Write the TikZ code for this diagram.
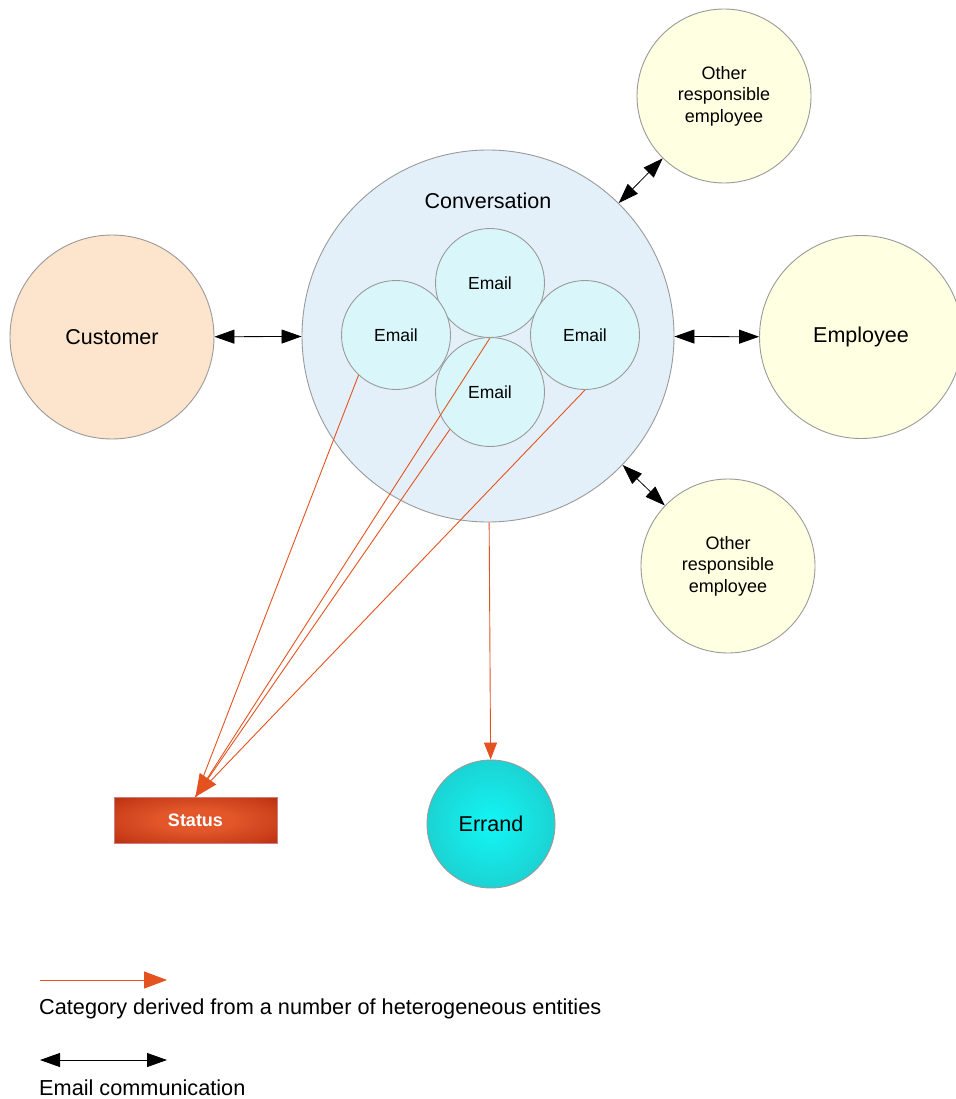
\documentclass[tikz,border=0pt]{standalone}
\usepackage{fontspec}
\setmainfont{Liberation Sans}
\usetikzlibrary{arrows.meta}

\definecolor{rimgray}{HTML}{9A9A9A}
\definecolor{convfill}{HTML}{E4F0F9}
\definecolor{mailfill}{HTML}{D9F7FA}
\definecolor{custfill}{HTML}{FDE4CC}
\definecolor{empfill}{HTML}{FFFFE1}
\definecolor{derivedline}{HTML}{E4531F}
\definecolor{statusin}{HTML}{E2562A}
\definecolor{statusmid}{HTML}{C63A18}
\definecolor{statusout}{HTML}{A0150A}
\definecolor{errandin}{HTML}{12F6F6}
\definecolor{errandmid}{HTML}{1ADADA}
\definecolor{errandout}{HTML}{22B2B2}

% soft glows for the derived category shapes
\pgfdeclareradialshading{statusglow}{\pgfpoint{0bp}{0bp}}{%
  color(0bp)=(statusin); color(12bp)=(statusin); color(30bp)=(statusmid); color(46bp)=(statusout); color(70bp)=(statusout)}
\pgfdeclareradialshading{errandglow}{\pgfpoint{0bp}{0bp}}{%
  color(0bp)=(errandin); color(20bp)=(errandmid); color(50bp)=(errandout); color(70bp)=(errandout)}

\tikzset{
  bubble/.style={circle, draw=rimgray, line width=0.9pt, inner sep=0pt, align=center},
  mailbubble/.style={bubble, fill=mailfill, minimum size=109pt, font=\fontsize{17.5}{20}\selectfont},
  peerbubble/.style={bubble, fill=empfill, minimum size=174pt, font=\fontsize{18}{21.5}\selectfont},
  mailcomm/.style={line width=0.8pt, draw=black,
    {Triangle[length=20pt,width=14pt]}-{Triangle[length=20pt,width=14pt]}},
  derived/.style={line width=0.9pt, draw=derivedline},
  bigtext/.style={font=\fontsize{21.5}{24}\selectfont},
}

\begin{document}
\begin{tikzpicture}[x=1pt,y=-1pt]
\useasboundingbox[fill=white] (0,0) rectangle (955,1099);

% conversation with its emails
\node[bubble, fill=convfill, minimum size=372pt] (conv) at (488,336) {};
\node[bigtext] (convlabel) at (488,201) {Conversation};
\node[mailbubble] (mtop) at (490,283) {Email};
\node[mailbubble] (mleft) at (396,335) {Email};
\node[mailbubble] (mright) at (585,335) {Email};
\node[mailbubble] (mbot) at (490,392) {Email};

% parties
\node[bubble, fill=custfill, minimum size=204pt, bigtext] (cust) at (112,337) {Customer};
\node[bubble, fill=empfill, minimum size=203pt, bigtext] (emp) at (861,337) {Employee};
\node[peerbubble] (otop) at (724,96) {Other\\responsible\\employee};
\node[peerbubble] (obot) at (728,566) {Other\\responsible\\employee};

% derived categories
\node[rectangle, minimum width=163pt, minimum height=46pt, inner sep=0pt,
      shading=statusglow, draw=statusout!55!white, line width=0.5pt,
      text=white, font=\bfseries\fontsize{18}{20}\selectfont] (status) at (195.5,820) {Status};
\node[circle, minimum size=128pt, inner sep=0pt, shading=errandglow,
      draw=rimgray, line width=0.9pt, bigtext] (errand) at (491,824) {Errand};

% email communication
\draw[mailcomm] (cust) -- (conv);
\draw[mailcomm] (conv) -- (emp);
\draw[mailcomm] (conv) -- (otop);
\draw[mailcomm] (conv) -- (obot);

% derivation connectors
\draw[derived] (mleft.227) -- (status.north);
\draw[derived] (mtop.south) -- (status.north);
\draw[derived] (mright.south) -- (status.north);
\draw[derived, -{Triangle[length=22pt,width=20pt]}] (mbot.223) -- (status.north);
\draw[derived, -{Triangle[length=17pt,width=13pt]}] (conv) -- (errand);

% legend
\coordinate (la) at (40,980);
\coordinate (lb) at (167,980);
\coordinate (lc) at (40,1060);
\coordinate (ld) at (167,1060);
\draw[derived, -{Triangle[length=23pt,width=17pt]}] (la) -- (lb);
\draw[mailcomm] (lc) -- (ld);
\node[anchor=west, inner sep=0pt, font=\fontsize{21.7}{24}\selectfont] (ltext1) at (39,1009) {Category derived from a number of heterogeneous entities};
\node[anchor=west, inner sep=0pt, font=\fontsize{21.7}{24}\selectfont] (ltext2) at (39,1088) {Email communication};
\end{tikzpicture}
\end{document}
